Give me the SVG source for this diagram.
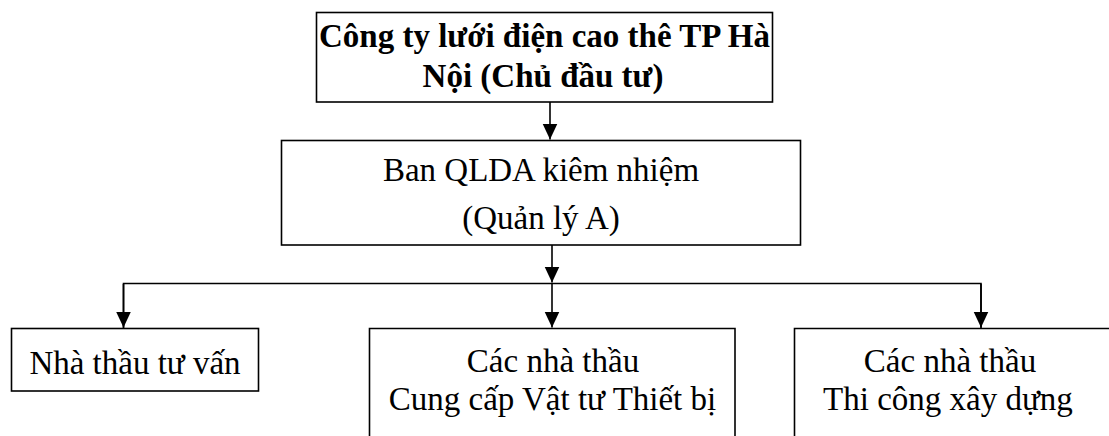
<svg xmlns="http://www.w3.org/2000/svg" width="1109" height="436" viewBox="0 0 1109 436">
<style>
.box{fill:#fff;stroke:#000;stroke-width:1.6}
.t{font-family:"Liberation Serif","Times New Roman",serif;font-size:33px;fill:#000;text-anchor:middle}
.b{font-weight:bold}
.c{fill:none;stroke:#000;stroke-width:1.6}
</style>
<defs>
<marker id="ah" markerUnits="userSpaceOnUse" markerWidth="18" markerHeight="18" viewBox="0 0 18 18" refX="16" refY="9" orient="auto">
<path d="M0,1.5 L16,9 L0,16.5 Z" fill="#000"/>
</marker>
</defs>
<rect width="1109" height="436" fill="#fff"/>
<g id="connectors">
<path class="c" d="M550,102 V139.5" marker-end="url(#ah)"/>
<path class="c" d="M552,245 V282.5" marker-end="url(#ah)"/>
<path class="c" d="M123.5,328 V283.5 H981 V328" />
<path class="c" d="M123.5,284 V327.5" marker-end="url(#ah)"/>
<path class="c" d="M552,284 V327.5" marker-end="url(#ah)"/>
<path class="c" d="M981,284 V327.5" marker-end="url(#ah)"/>
</g>
<g id="node-owner">
<rect class="box" x="316.5" y="12.5" width="456" height="89.5" stroke-width="2"/>
<text class="t b" x="544.5" y="47">Công ty lưới điện cao thê TP Hà</text>
<text class="t b" x="543" y="86.5">Nội (Chủ đầu tư)</text>
</g>
<g id="node-ban">
<rect class="box" x="281.5" y="140.5" width="519" height="104.5"/>
<text class="t" x="541" y="181">Ban QLDA kiêm nhiệm</text>
<text class="t" x="541" y="229">(Quản lý A)</text>
</g>
<g id="node-tuvan">
<rect class="box" x="11.5" y="328.5" width="247" height="62.5"/>
<text class="t" x="135" y="373.5">Nhà thầu tư vấn</text>
</g>
<g id="node-vattu">
<path class="box" d="M369.5,440 V328.5 H735 V440"/>
<text class="t" x="553" y="372">Các nhà thầu</text>
<text class="t" x="552.5" y="409.5">Cung cấp Vật tư Thiết bị</text>
</g>
<g id="node-thicong">
<path class="box" d="M794.5,440 V328.5 H1112"/>
<text class="t" x="950" y="372">Các nhà thầu</text>
<text class="t" x="948" y="409.5">Thi công xây dựng</text>
</g>
</svg>
